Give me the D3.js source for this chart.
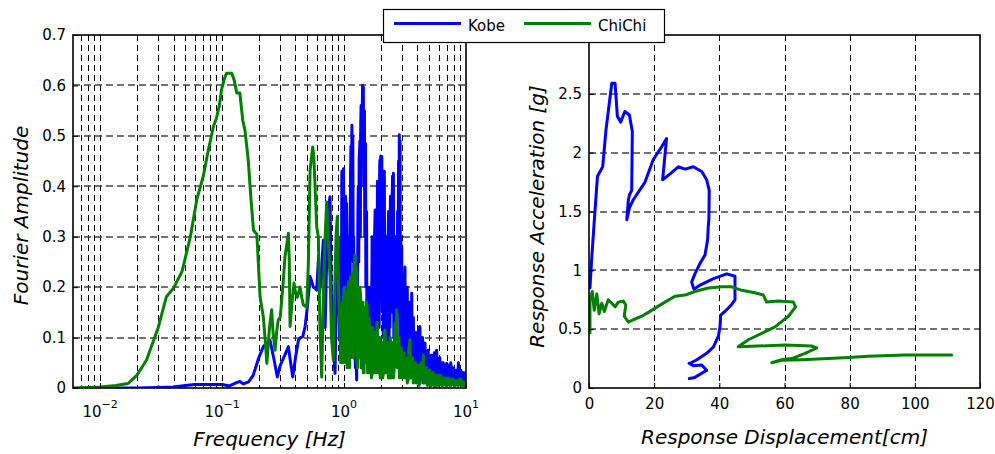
<!DOCTYPE html>
<html><head><meta charset="utf-8">
<script src="https://cdn.jsdelivr.net/npm/d3@7"></script>
<style>
body{margin:0;background:#fff;}
text{font-family:"DejaVu Sans",sans-serif;fill:#000;}
</style></head>
<body><svg id="chart" width="995" height="454"></svg>
<script>
// ---------- DATA ----------
const seriesNames = ["Kobe", "ChiChi"];
const seriesColors = ["#0000ff", "#008000"];

// Fourier spectra: [frequency Hz, amplitude]
const kobeSpectrum = [[0.0115,0],[0.02,0],[0.03,0.001],[0.04,0.002],[0.05,0.005],[0.06,0.007],[0.08,0.007],[0.1,0.007],[0.115,0.004],[0.13,0.01],[0.14,0.013],[0.15,0.008],[0.165,0.012],[0.18,0.025],[0.2,0.06],[0.218,0.082],[0.235,0.09],[0.247,0.095],[0.265,0.06],[0.284,0.022],[0.3,0.045],[0.32,0.06],[0.35,0.082],[0.365,0.05],[0.38,0.022],[0.4,0.06],[0.423,0.095],[0.44,0.1],[0.459,0.102],[0.48,0.122],[0.5,0.16],[0.527,0.221],[0.545,0.21],[0.56,0.2],[0.58,0.198],[0.597,0.194],[0.615,0.25],[0.63,0.19],[0.645,0.21],[0.66,0.25],[0.677,0.293],[0.69,0.2],[0.7,0.12],[0.72,0.25],[0.744,0.36],[0.768,0.379],[0.785,0.2],[0.8,0.1],[0.82,0.07],[0.844,0.029],[0.86,0.15],[0.88,0.3],[0.9,0.2],[0.92,0.1],
[0.94,0.3],[0.95,0.15],[0.96,0.43],[0.97,0.2],[0.98,0.4],[0.99,0.435],[1.0,0.25],[1.01,0.3],[1.02,0.12],[1.03,0.38],[1.04,0.2],[1.05,0.366],[1.06,0.3],[1.07,0.25],[1.08,0.06],[1.09,0.1],[1.1,0.25],[1.11,0.3],[1.12,0.15],[1.13,0.42],[1.14,0.48],[1.15,0.3],[1.16,0.521],[1.17,0.45],[1.18,0.5],[1.19,0.25],[1.2,0.3],[1.21,0.1],[1.22,0.15],[1.24,0.04],[1.25,0.08],[1.27,0.016],[1.28,0.15],[1.29,0.2],[1.3,0.35],[1.31,0.4],[1.32,0.25],[1.33,0.45],[1.35,0.49],[1.36,0.3],[1.37,0.52],[1.38,0.56],[1.4,0.5],[1.42,0.6],[1.43,0.55],[1.44,0.597],[1.45,0.4],[1.47,0.55],[1.48,0.3],[1.5,0.485],[1.51,0.2],[1.53,0.35],[1.54,0.15],[1.56,0.2],[1.58,0.06],[1.6,0.08],[1.62,0.2],[1.63,0.055],[1.65,0.15],[1.67,0.2],[1.68,0.1],[1.7,0.3],[1.71,0.15],[1.73,0.18],[1.74,0.05],[1.76,0.1],[1.78,0.3],[1.8,0.353],[1.82,0.15],[1.84,0.25],[1.86,0.1],[1.88,0.41],[1.9,0.2],[1.92,0.35],[1.94,0.12],[1.96,0.44],[1.97,0.452],[1.98,0.25],[2.0,0.46],[2.02,0.2],[2.04,0.459],[2.06,0.15],[2.08,0.3],[2.1,0.1],[2.11,0.42],[2.13,0.25],[2.14,0.43],[2.16,0.12],[2.18,0.2],[2.2,0.08],[2.22,0.3],[2.24,0.254],[2.26,0.05],[2.28,0.1],[2.3,0.3],[2.32,0.35],[2.34,0.1],[2.36,0.2],[2.38,0.12],[2.4,0.38],[2.42,0.2],[2.45,0.15],[2.47,0.35],[2.5,0.42],[2.52,0.18],[2.54,0.426],[2.56,0.1],[2.58,0.25],[2.6,0.05],[2.62,0.1],[2.64,0.3],[2.66,0.3],[2.68,0.1],[2.7,0.2],[2.72,0.07],[2.75,0.35],[2.77,0.15],[2.8,0.45],[2.82,0.2],[2.84,0.502],[2.86,0.3],[2.88,0.49],[2.9,0.1],[2.92,0.3],[2.94,0.08],[2.97,0.28],[2.99,0.06],[3.02,0.15],[3.04,0.04],[3.06,0.221],[3.09,0.05],[3.12,0.08],[3.14,0.2],[3.16,0.24],[3.19,0.05],[3.22,0.12],[3.26,0.03],[3.3,0.2],[3.34,0.04],[3.38,0.06],[3.42,0.15],[3.45,0.17],[3.49,0.03],[3.52,0.1],[3.56,0.04],[3.59,0.188],[3.62,0.05],[3.65,0.07],[3.68,0.03],[3.7,0.14],[3.75,0.02],[3.8,0.04],[3.85,0.1],[3.9,0.11],[3.95,0.03],[4.0,0.05],[4.05,0.02],[4.1,0.12],[4.15,0.04],[4.19,0.122],[4.25,0.02],[4.3,0.04],[4.35,0.09],[4.4,0.1],[4.45,0.01],[4.5,0.03],[4.55,0.08],[4.61,0.089],[4.68,0.02],[4.75,0.02],[4.82,0.07],[4.9,0.075],[4.97,0.01],[5.05,0.03],[5.12,0.06],[5.2,0.065],[5.28,0.015],[5.35,0.01],[5.42,0.06],[5.5,0.07],[5.6,0.02],[5.68,0.07],[5.75,0.075],[5.82,0.01],[5.9,0.02],[6.0,0.055],[6.1,0.06],[6.2,0.01],[6.3,0.015],[6.4,0.05],[6.5,0.05],[6.6,0.01],[6.7,0.01],[6.82,0.045],[6.94,0.049],[7.02,0.01],[7.1,0.02],[7.2,0.045],[7.3,0.045],[7.4,0.01],[7.5,0.05],[7.6,0.03],[7.7,0.01],[7.8,0.035],[7.9,0.04],[8.0,0.01],[8.1,0.005],[8.25,0.035],[8.4,0.035],[8.55,0.01],[8.66,0.05],[8.8,0.02],[8.9,0.01],[9.0,0.03],[9.1,0.035],[9.2,0.005],[9.3,0.01],[9.45,0.03],[9.6,0.03],[9.7,0.005],[9.8,0.01],[9.9,0.03],[10,0.02]];

const chichiSpectrum = [[0.006,0],[0.01,0.002],[0.0135,0.005],[0.017,0.009],[0.02,0.025],[0.024,0.055],[0.03,0.12],[0.035,0.181],[0.04,0.198],[0.047,0.231],[0.055,0.3],[0.062,0.373],[0.07,0.419],[0.077,0.47],[0.085,0.519],[0.09,0.535],[0.095,0.56],[0.099,0.591],[0.105,0.615],[0.109,0.624],[0.12,0.624],[0.126,0.61],[0.132,0.585],[0.14,0.585],[0.148,0.53],[0.154,0.512],[0.164,0.452],[0.172,0.38],[0.181,0.313],[0.193,0.305],[0.205,0.181],[0.218,0.141],[0.225,0.1],[0.233,0.049],[0.245,0.12],[0.255,0.155],[0.262,0.11],[0.272,0.075],[0.28,0.11],[0.289,0.135],[0.3,0.14],[0.315,0.2],[0.328,0.26],[0.35,0.307],[0.356,0.25],[0.361,0.122],[0.375,0.17],[0.389,0.208],[0.4,0.19],[0.414,0.18],[0.436,0.2],[0.45,0.18],[0.464,0.165],[0.495,0.16],[0.51,0.247],[0.527,0.432],[0.554,0.478],[0.565,0.46],[0.579,0.4],[0.597,0.32],[0.616,0.3],[0.635,0.12],[0.656,0.022],[0.68,0.2],[0.7,0.3],[0.721,0.369],[0.74,0.3],[0.768,0.22],[0.79,0.1],[0.817,0.055],[0.84,0.2],[0.86,0.3],[0.881,0.34],[0.9,0.2],[0.927,0.109],
[0.94,0.05],[0.95,0.06],[0.96,0.15],[0.97,0.17],[0.98,0.05],[0.99,0.1],[1.0,0.18],[1.01,0.2],[1.02,0.08],[1.03,0.05],[1.04,0.16],[1.05,0.19],[1.06,0.04],[1.07,0.08],[1.08,0.2],[1.09,0.21],[1.1,0.1],[1.11,0.04],[1.12,0.18],[1.13,0.22],[1.14,0.06],[1.15,0.1],[1.16,0.2],[1.17,0.23],[1.18,0.08],[1.2,0.06],[1.21,0.21],[1.23,0.264],[1.24,0.1],[1.25,0.12],[1.26,0.24],[1.27,0.22],[1.28,0.05],[1.29,0.04],[1.3,0.18],[1.31,0.2],[1.32,0.06],[1.34,0.07],[1.35,0.2],[1.37,0.18],[1.38,0.04],[1.4,0.05],[1.41,0.17],[1.43,0.17],[1.44,0.03],[1.46,0.03],[1.47,0.16],[1.49,0.15],[1.5,0.05],[1.52,0.08],[1.53,0.17],[1.55,0.16],[1.56,0.03],[1.58,0.04],[1.59,0.14],[1.61,0.13],[1.62,0.03],[1.64,0.05],[1.65,0.12],[1.67,0.12],[1.68,0.02],[1.7,0.03],[1.71,0.12],[1.73,0.11],[1.75,0.03],[1.77,0.04],[1.78,0.11],[1.8,0.1],[1.82,0.03],[1.84,0.05],[1.86,0.13],[1.88,0.12],[1.9,0.03],[1.92,0.03],[1.94,0.1],[1.96,0.1],[1.98,0.02],[2.0,0.04],[2.03,0.09],[2.05,0.09],[2.08,0.02],[2.1,0.03],[2.14,0.11],[2.17,0.115],[2.2,0.03],[2.22,0.04],[2.25,0.09],[2.28,0.08],[2.31,0.02],[2.34,0.02],[2.37,0.09],[2.4,0.1],[2.43,0.02],[2.46,0.03],[2.49,0.09],[2.52,0.08],[2.55,0.02],[2.58,0.04],[2.61,0.12],[2.64,0.13],[2.67,0.05],[2.7,0.155],[2.73,0.04],[2.76,0.05],[2.79,0.1],[2.82,0.1],[2.85,0.02],[2.88,0.03],[2.92,0.08],[2.95,0.08],[2.98,0.02],[3.02,0.02],[3.06,0.07],[3.1,0.07],[3.14,0.02],[3.18,0.03],[3.22,0.06],[3.25,0.06],[3.3,0.01],[3.35,0.015],[3.41,0.08],[3.47,0.095],[3.51,0.02],[3.55,0.03],[3.6,0.06],[3.65,0.06],[3.7,0.01],[3.75,0.015],[3.8,0.05],[3.85,0.05],[3.9,0.01],[3.95,0.02],[4.0,0.045],[4.05,0.045],[4.12,0.005],[4.2,0.01],[4.28,0.05],[4.35,0.05],[4.41,0.02],[4.47,0.065],[4.53,0.01],[4.6,0.01],[4.68,0.04],[4.75,0.04],[4.82,0.005],[4.9,0.01],[4.97,0.035],[5.05,0.035],[5.12,0.005],[5.2,0.005],[5.3,0.03],[5.4,0.03],[5.5,0.005],[5.6,0],[5.7,0.025],[5.8,0.025],[5.9,0.005],[6.0,0.005],[6.1,0.025],[6.2,0.025],[6.32,0.005],[6.45,0.005],[6.57,0.02],[6.7,0.02],[6.82,0.005],[6.95,0.005],[7.07,0.02],[7.2,0.02],[7.35,0.005],[7.5,0.005],[7.65,0.018],[7.8,0.018],[7.95,0.005],[8.1,0.005],[8.25,0.015],[8.4,0.015],[8.55,0.005],[8.7,0.005],[8.85,0.018],[9.0,0.018],[9.15,0.005],[9.3,0.005],[9.45,0.012],[9.6,0.012],[9.8,0.005],[10,0.01]];

// Response paths: displacement [cm], acceleration [g]
const kobeDisp = [0.3,0.8,1.2,1.8,2.6,4.2,5.2,7.0,8.0,8.7,9.7,11.0,12.4,13.3,13.1,12.4,12.1,11.6,12.4,13.6,17.2,19.7,22.3,23.8,22.6,24.9,27.4,29.5,32.0,34.6,36.1,36.9,36.8,36.6,36.4,35.6,34.1,32.5,31.5,32.2,34.1,38.2,42.3,44.8,44.8,43.8,41.7,40.4,40.2,39.7,38.2,36.1,33.1,31.0,30.7,32.0,34.6,36.1,34.6,32.5,30.8];
const kobeAcc  = [0.85,1.09,1.25,1.49,1.80,1.88,2.19,2.59,2.59,2.31,2.26,2.35,2.32,2.18,1.68,1.64,1.60,1.43,1.53,1.60,1.75,1.94,2.05,2.12,1.77,1.82,1.88,1.86,1.88,1.84,1.77,1.68,1.44,1.37,1.26,1.13,1.06,0.97,0.90,0.84,0.875,0.93,0.97,0.95,0.75,0.71,0.65,0.62,0.52,0.44,0.35,0.295,0.24,0.21,0.21,0.19,0.195,0.15,0.125,0.09,0.08];

const chichiDisp = [0.3,0.3,1.0,1.6,2.4,3.1,3.9,4.7,5.9,7.0,8.0,9.0,10.5,11.3,10.8,12.1,13.6,16.2,19.2,23.3,26.4,29.5,32.5,36.6,40.7,43.8,46.9,50.9,53.5,54.5,58.1,62.7,63.4,61.2,57.1,53.0,48.9,45.8,60.2,68.3,69.9,66.3,62.2,59.1,56.1,59.1,65.3,73.5,79.6,85.7,97.0,111.3];
const chichiAcc  = [0.47,0.75,0.82,0.66,0.80,0.63,0.72,0.65,0.75,0.72,0.69,0.73,0.74,0.705,0.61,0.56,0.58,0.61,0.66,0.73,0.78,0.79,0.82,0.85,0.86,0.86,0.83,0.81,0.79,0.73,0.74,0.73,0.69,0.61,0.52,0.465,0.41,0.35,0.365,0.357,0.34,0.295,0.25,0.24,0.215,0.235,0.24,0.25,0.26,0.27,0.28,0.28];

const ampTicks = [0,0.1,0.2,0.3,0.4,0.5,0.6,0.7];
const freqDecades = [-2,-1,0,1];
const dispTicks = [0,20,40,60,80,100,120];
const accTicks = [0,0.5,1,1.5,2,2.5];
const accTickLabels = ["0","0.5","1","1.5","2","2.5"];

// ---------- CHART ----------
const svg = d3.select("#chart");
const L = {x0:73, x1:466, y0:35, y1:388};
const R = {x0:589, x1:980, y0:35, y1:388};

const xF = d3.scaleLog().domain([0.006, 10]).range([L.x0, L.x1]);
const yA = d3.scaleLinear().domain([0, 0.7]).range([L.y1, L.y0]);
const xD = d3.scaleLinear().domain([0, 120]).range([R.x0, R.x1]);
const yG = d3.scaleLinear().domain([0, 3]).range([R.y1, R.y0]);

const defs = svg.append("defs");
defs.append("clipPath").attr("id","clipL").append("rect")
  .attr("x",L.x0).attr("y",L.y0).attr("width",L.x1-L.x0).attr("height",L.y1-L.y0);
defs.append("clipPath").attr("id","clipR").append("rect")
  .attr("x",R.x0).attr("y",R.y0).attr("width",R.x1-R.x0).attr("height",R.y1-R.y0);

const vGridStyle = g => g.attr("stroke","#000").attr("stroke-width",1).attr("stroke-dasharray","6,4").attr("shape-rendering","crispEdges");
const hGridStyle = g => g.attr("stroke","#444").attr("stroke-width",1.4).attr("stroke-dasharray","7,4");

// ---- Left plot grid ----
const minorF = [];
for (let e=-3; e<=1; e++) for (let k=1; k<=9; k++) {
  const v = k*Math.pow(10,e);
  if (v > 0.006 && v < 10) minorF.push(v);
}
const gL = svg.append("g");
gL.append("g").call(vGridStyle).selectAll("line").data(minorF).join("line")
  .attr("x1",d=>Math.round(xF(d))+0.5).attr("x2",d=>Math.round(xF(d))+0.5)
  .attr("y1",L.y0).attr("y2",L.y1);
gL.append("g").call(hGridStyle).selectAll("line").data(ampTicks.slice(1,-1)).join("line")
  .attr("x1",L.x0).attr("x2",L.x1)
  .attr("y1",d=>Math.round(yA(d))).attr("y2",d=>Math.round(yA(d)));

// ---- Right plot grid ----
const gR = svg.append("g");
gR.append("g").call(vGridStyle).selectAll("line").data(dispTicks.slice(1,-1)).join("line")
  .attr("x1",d=>Math.round(xD(d))+0.5).attr("x2",d=>Math.round(xD(d))+0.5)
  .attr("y1",R.y0).attr("y2",R.y1);
gR.append("g").call(hGridStyle).selectAll("line").data(accTicks.slice(1)).join("line")
  .attr("x1",R.x0).attr("x2",R.x1)
  .attr("y1",d=>Math.round(yG(d))).attr("y2",d=>Math.round(yG(d)));

// ---- Curves ----
const lineF = d3.line().x(d=>xF(d[0])).y(d=>yA(d[1]));
const lineR = d3.line().x(d=>xD(d[0])).y(d=>yG(d[1]));
const zip = (a,b) => a.map((v,i)=>[v,b[i]]);

const cL = svg.append("g").attr("clip-path","url(#clipL)");
cL.append("path").attr("d", lineF(kobeSpectrum))
  .attr("fill","none").attr("stroke",seriesColors[0]).attr("stroke-width",3).attr("stroke-linejoin","round");
cL.append("path").attr("d", lineF(chichiSpectrum))
  .attr("fill","none").attr("stroke",seriesColors[1]).attr("stroke-width",3).attr("stroke-linejoin","round");

const cR = svg.append("g").attr("clip-path","url(#clipR)");
cR.append("path").attr("d", lineR(zip(kobeDisp,kobeAcc)))
  .attr("fill","none").attr("stroke",seriesColors[0]).attr("stroke-width",3).attr("stroke-linejoin","round").attr("stroke-linecap","round");
cR.append("path").attr("d", lineR(zip(chichiDisp,chichiAcc)))
  .attr("fill","none").attr("stroke",seriesColors[1]).attr("stroke-width",3).attr("stroke-linejoin","round").attr("stroke-linecap","round");

// ---- Frames ----
[L,R].forEach(p=>{
  svg.append("rect").attr("x",p.x0).attr("y",p.y0).attr("width",p.x1-p.x0).attr("height",p.y1-p.y0)
    .attr("fill","none").attr("stroke","#000").attr("stroke-width",1.6);
});

// ---- Axes (tick labels) ----
const axStyle = g => {
  g.select(".domain").remove();
  g.selectAll(".tick line").attr("stroke","#000");
  g.selectAll("text").attr("font-size",15).attr("font-family","DejaVu Sans, sans-serif");
};
svg.append("g").attr("transform",`translate(${L.x0},0)`)
  .call(d3.axisLeft(yA).tickValues(ampTicks).tickFormat(d3.format("")).tickSizeInner(-5).tickSizeOuter(0).tickPadding(7))
  .call(axStyle);
svg.append("g").attr("transform",`translate(${R.x0},0)`)
  .call(d3.axisLeft(yG).tickValues(accTicks).tickFormat((d,i)=>accTickLabels[i]).tickSizeInner(-5).tickSizeOuter(0).tickPadding(7))
  .call(axStyle);
svg.append("g").attr("transform",`translate(0,${R.y1})`)
  .call(d3.axisBottom(xD).tickValues(dispTicks).tickSizeInner(-5).tickSizeOuter(0).tickPadding(10))
  .call(axStyle);
// log x axis with superscripts
svg.append("g").attr("transform",`translate(0,${L.y1})`)
  .call(d3.axisBottom(xF).tickValues(freqDecades.map(e=>Math.pow(10,e))).tickFormat("").tickSizeInner(-5).tickSizeOuter(0))
  .call(axStyle);
const lab = svg.append("g").selectAll("text").data(freqDecades).join("text")
  .attr("x",d=>xF(Math.pow(10,d))).attr("y",417).attr("text-anchor","middle").attr("font-size",15);
lab.append("tspan").text("10");
lab.append("tspan").attr("dy",-9).attr("font-size",11).text(d=>d<0?"\u2212"+(-d):String(d));

// ---- Axis titles ----
svg.append("text").attr("x",(L.x0+L.x1)/2).attr("y",446).attr("text-anchor","middle")
  .attr("font-size",20).attr("font-style","italic").text("Frequency [Hz]");
svg.append("text").attr("transform",`translate(28,${(L.y0+L.y1)/2+4}) rotate(-90)`).attr("text-anchor","middle")
  .attr("font-size",20).attr("font-style","italic").text("Fourier Amplitude");
svg.append("text").attr("x",(R.x0+R.x1)/2).attr("y",444).attr("text-anchor","middle")
  .attr("font-size",20).attr("font-style","italic").text("Response Displacement[cm]");
svg.append("text").attr("transform",`translate(544,${(R.y0+R.y1)/2+5}) rotate(-90)`).attr("text-anchor","middle")
  .attr("font-size",20).attr("font-style","italic").text("Response Acceleration [g]");

// ---- Legend ----
const lg = svg.append("g");
lg.append("rect").attr("x",383.5).attr("y",9.5).attr("width",281).attr("height",33)
  .attr("fill","#fff").attr("stroke","#000").attr("stroke-width",1.2);
const legX = [394, 524];
seriesNames.forEach((n,i)=>{
  lg.append("line").attr("x1",legX[i]).attr("x2",legX[i]+67).attr("y1",23.5).attr("y2",23.5)
    .attr("stroke",seriesColors[i]).attr("stroke-width",3);
  lg.append("text").attr("x",legX[i]+74).attr("y",31).attr("font-size",15).text(n);
});
</script></body></html>
